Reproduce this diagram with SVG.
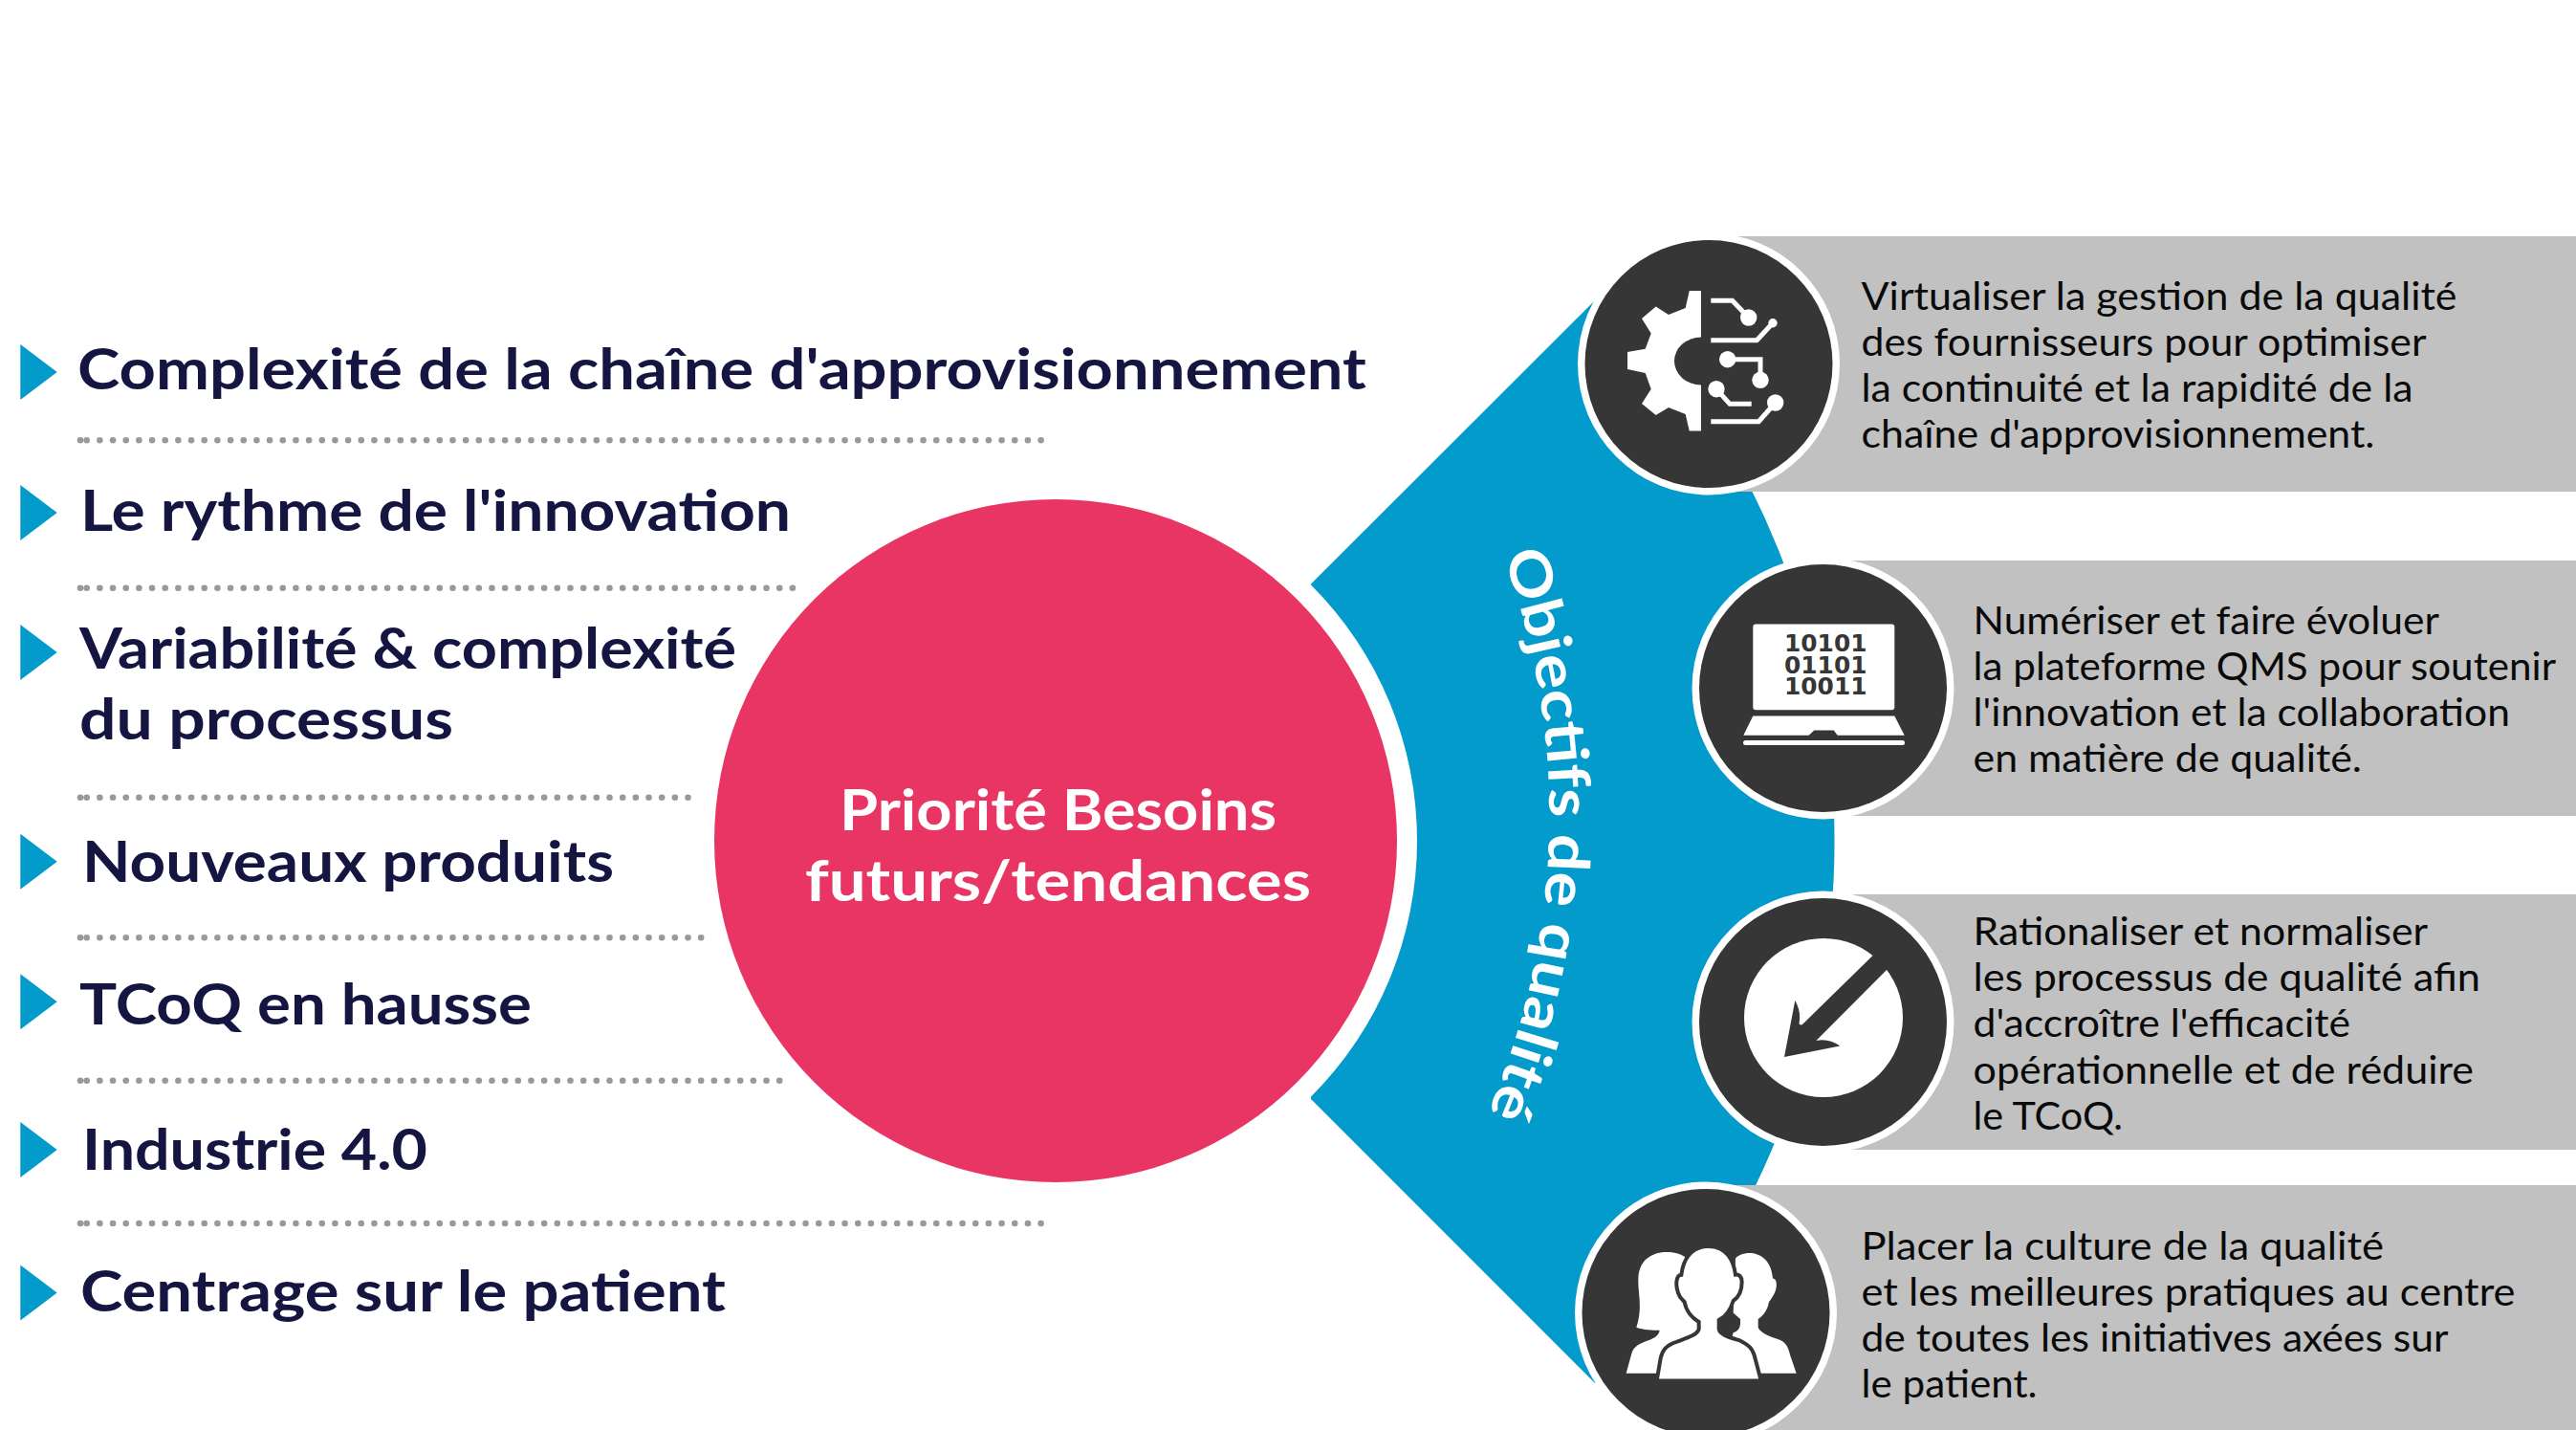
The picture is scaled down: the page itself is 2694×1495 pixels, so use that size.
<svg xmlns="http://www.w3.org/2000/svg" width="2694" height="1495" viewBox="0 0 2694 1495">
<style>
text{font-family:"Lato","Liberation Sans",sans-serif}
.h{font-size:60px;font-weight:700;fill:#141641}
.c{font-size:60px;font-weight:700;fill:#fff}
.b{font-size:41px;font-weight:400;fill:#0a0a0a}
.tri{fill:#039acc}
.dots{fill:none;stroke:#999;stroke-width:6.6;stroke-linecap:round;stroke-dasharray:0 13.67}
.band{fill:#c1c1c1}
.ring{fill:#fff}
.disc{fill:#363636}
.ic{fill:#fff}
.w{fill:none;stroke:#fff;stroke-width:5}
.bin{font-family:"DejaVu Sans",sans-serif;font-size:24.5px;font-weight:700;fill:#363636}
</style>
<rect width="2694" height="1495" fill="#fff"/>
<g id="objectifs">
<path d="M1371 610.500L1668 314H1693A823 823 0 0 1 1693 1446H1668L1371 1149Z" fill="#039acc"/>
<path id="arcText" d="M1570 576A784 784 0 0 1 1553 1170" fill="none"/>
<text class="c" font-size="58"><textPath href="#arcText" startOffset="5" textLength="597" lengthAdjust="spacingAndGlyphs">Objectifs de qualité</textPath></text>
</g>
<g id="centre">
<circle cx="1104" cy="879" r="378" fill="#fff"/>
<circle cx="1104" cy="879" r="357" fill="#e83563"/>
<text class="c" x="878" y="868" textLength="457" lengthAdjust="spacingAndGlyphs">Priorité Besoins</text>
<text class="c" x="842" y="942" textLength="529" lengthAdjust="spacingAndGlyphs">futurs/tendances</text>
</g>
<g id="liste">
<polygon class="tri" points="21.300,360 59.700,389 21.300,418"/>
<text class="h" x="81" y="407" textLength="1348" lengthAdjust="spacingAndGlyphs">Complexité de la chaîne d'approvisionnement</text>
<path class="dots" d="M84 460.300h.01M90.700 460.300H1091"/>
<polygon class="tri" points="21.300,507 59.700,536 21.300,565"/>
<text class="h" x="84" y="555" textLength="743" lengthAdjust="spacingAndGlyphs">Le rythme de l'innovation</text>
<path class="dots" d="M84 614.700h.01M90.700 614.700H832"/>
<polygon class="tri" points="21.300,653 59.700,682 21.300,711"/>
<text class="h" x="83" y="699" textLength="687" lengthAdjust="spacingAndGlyphs">Variabilité &amp; complexité</text>
<text class="h" x="83" y="773" textLength="391" lengthAdjust="spacingAndGlyphs">du processus</text>
<path class="dots" d="M84 833.700h.01M90.700 833.700H722"/>
<polygon class="tri" points="21.300,871.700 59.700,900.700 21.300,929.700"/>
<text class="h" x="86" y="922" textLength="556" lengthAdjust="spacingAndGlyphs">Nouveaux produits</text>
<path class="dots" d="M84 980.300h.01M90.700 980.300H735"/>
<polygon class="tri" points="21.300,1018.300 59.700,1047.300 21.300,1076.300"/>
<text class="h" x="83" y="1070.700" textLength="473" lengthAdjust="spacingAndGlyphs">TCoQ en hausse</text>
<path class="dots" d="M84 1129.700h.01M90.700 1129.700H818"/>
<polygon class="tri" points="21.300,1173 59.700,1202 21.300,1231"/>
<text class="h" x="86" y="1223" textLength="361" lengthAdjust="spacingAndGlyphs">Industrie 4.0</text>
<path class="dots" d="M84 1279h.01M90.700 1279H1091"/>
<polygon class="tri" points="21.300,1322.500 59.700,1351.500 21.300,1380.500"/>
<text class="h" x="84" y="1371" textLength="675" lengthAdjust="spacingAndGlyphs">Centrage sur le patient</text>
</g>
<g id="panel1">
<rect class="band" x="1787" y="247" width="907" height="267"/>
<circle class="ring" cx="1787" cy="380.500" r="137"/>
<circle class="disc" cx="1787" cy="380.500" r="129.500"/>
<path class="ic" d="M1779 304H1766.700L1762.700 322L1745 329L1731.700 320.600L1717 333L1726.700 348.400L1720.700 364.700L1702 368V386L1720.700 390L1726.700 406.700L1717 422L1731.700 434L1745 426L1762.700 433L1766.700 450.400H1779V402.500A28 25 0 0 1 1779 352.500Z"/>
<path class="w" d="M1789.300 314.300H1811.700L1828.700 332M1789.300 355.700H1837.300L1854 337.700M1806.700 375.700H1841V397.300M1795 406.700L1809 422.300H1831.700M1789.300 440.700H1839.300L1856.700 421"/>
<circle class="ic" cx="1828.700" cy="332" r="8.700"/>
<circle class="ic" cx="1854" cy="337.700" r="4.700"/>
<circle class="ic" cx="1806.700" cy="375.700" r="8.700"/>
<circle class="ic" cx="1841" cy="397.300" r="8.700"/>
<circle class="ic" cx="1795" cy="406.700" r="8.700"/>
<circle class="ic" cx="1856.700" cy="421" r="8.700"/>
<text class="b" x="1946.500" y="323.500" textLength="623" lengthAdjust="spacingAndGlyphs">Virtualiser la gestion de la qualité</text>
<text class="b" x="1946.500" y="371.500" textLength="591" lengthAdjust="spacingAndGlyphs">des fournisseurs pour optimiser</text>
<text class="b" x="1946.500" y="419.500" textLength="577" lengthAdjust="spacingAndGlyphs">la continuité et la rapidité de la</text>
<text class="b" x="1946.500" y="467.500" textLength="537" lengthAdjust="spacingAndGlyphs">chaîne d'approvisionnement.</text>
</g>
<g id="panel2">
<rect class="band" x="1906" y="586" width="788" height="267"/>
<circle class="ring" cx="1906.500" cy="719.500" r="137"/>
<circle class="disc" cx="1906.500" cy="719.500" r="129.500"/>
<rect class="ic" x="1833.300" y="652.400" width="148" height="89.800" rx="3"/>
<text class="bin" x="1866" y="681" textLength="86.500" lengthAdjust="spacingAndGlyphs">10101</text>
<text class="bin" x="1866" y="703.500" textLength="86.500" lengthAdjust="spacingAndGlyphs">01101</text>
<text class="bin" x="1866" y="726" textLength="86.500" lengthAdjust="spacingAndGlyphs">10011</text>
<path class="ic" d="M1833.300 748.400H1981.300L1991.700 768.800H1921.700L1917.700 763.500H1897.300L1891.700 768.800H1823.300Z"/>
<rect class="ic" x="1823" y="774" width="169" height="5" rx="2.500"/>
<text class="b" x="2063.500" y="662.500" textLength="487.500" lengthAdjust="spacingAndGlyphs">Numériser et faire évoluer</text>
<text class="b" x="2063.500" y="710.500" textLength="609.500" lengthAdjust="spacingAndGlyphs">la plateforme QMS pour soutenir</text>
<text class="b" x="2063.500" y="758.500" textLength="561.500" lengthAdjust="spacingAndGlyphs">l'innovation et la collaboration</text>
<text class="b" x="2063.500" y="806.500" textLength="406.500" lengthAdjust="spacingAndGlyphs">en matière de qualité.</text>
</g>
<g id="panel3">
<rect class="band" x="1906" y="935" width="788" height="267"/>
<circle class="ring" cx="1906.500" cy="1068.500" r="137"/>
<circle class="disc" cx="1906.500" cy="1068.500" r="129.500"/>
<circle class="ic" cx="1907" cy="1064" r="83"/>
<path class="disc" d="M1866 1105L1877.300 1046Q1884 1058 1881.500 1070Q1883 1073 1886 1070L1980 978L1995 992L1899.300 1087.900Q1912 1085 1924.300 1093.500Z"/>
<text class="b" x="2063.500" y="988" textLength="475.500" lengthAdjust="spacingAndGlyphs">Rationaliser et normaliser</text>
<text class="b" x="2063.500" y="1036" textLength="530.500" lengthAdjust="spacingAndGlyphs">les processus de qualité afin</text>
<text class="b" x="2063.500" y="1084" textLength="394.500" lengthAdjust="spacingAndGlyphs">d'accroître l'efficacité</text>
<text class="b" x="2063.500" y="1132.500" textLength="523.500" lengthAdjust="spacingAndGlyphs">opérationnelle et de réduire</text>
<text class="b" x="2063.500" y="1180.500" textLength="156.500" lengthAdjust="spacingAndGlyphs">le TCoQ.</text>
</g>
<g id="panel4">
<rect class="band" x="1784" y="1239" width="910" height="256"/>
<circle class="ring" cx="1784" cy="1372.500" r="137"/>
<circle class="disc" cx="1784" cy="1372.500" r="129.500"/>
<g transform="translate(1620 900) scale(.33333 .37951)">
<path class="ic" d="M425 1090C390 1070 285 1065 280 1150C278 1190 295 1230 274 1285C295 1292 325 1293 347 1293C345 1305 335 1312 320 1318C285 1330 265 1335 258 1360L242 1412H500V1200Z"/>
<path class="ic" d="M585 1095C610 1070 695 1070 702 1150C716 1150 718 1175 705 1195C698 1205 695 1210 690 1215C685 1240 670 1255 656 1262V1285C660 1298 690 1310 720 1318C745 1325 752 1345 756 1360L776 1412H540L578 1300C595 1295 602 1285 600 1262L578 1245Z"/>
<path class="ic" stroke="#363636" stroke-width="4" vector-effect="non-scaling-stroke" d="M500 1062C440 1062 420 1105 415 1140C400 1140 395 1165 405 1190C410 1205 420 1210 425 1215C430 1240 450 1260 470 1270V1290C465 1305 440 1312 400 1325C365 1335 355 1350 350 1370L338 1432H665L648 1375C640 1345 630 1335 600 1322C565 1312 535 1305 533 1290V1265C555 1255 570 1235 578 1212C590 1205 605 1190 605 1160C605 1145 595 1138 585 1140C580 1105 560 1062 500 1062Z"/>
</g>
<text class="b" x="1946.500" y="1317" textLength="546.500" lengthAdjust="spacingAndGlyphs">Placer la culture de la qualité</text>
<text class="b" x="1946.500" y="1365" textLength="684" lengthAdjust="spacingAndGlyphs">et les meilleures pratiques au centre</text>
<text class="b" x="1946.500" y="1413" textLength="614" lengthAdjust="spacingAndGlyphs">de toutes les initiatives axées sur</text>
<text class="b" x="1946.500" y="1461" textLength="184" lengthAdjust="spacingAndGlyphs">le patient.</text>
</g>
</svg>
